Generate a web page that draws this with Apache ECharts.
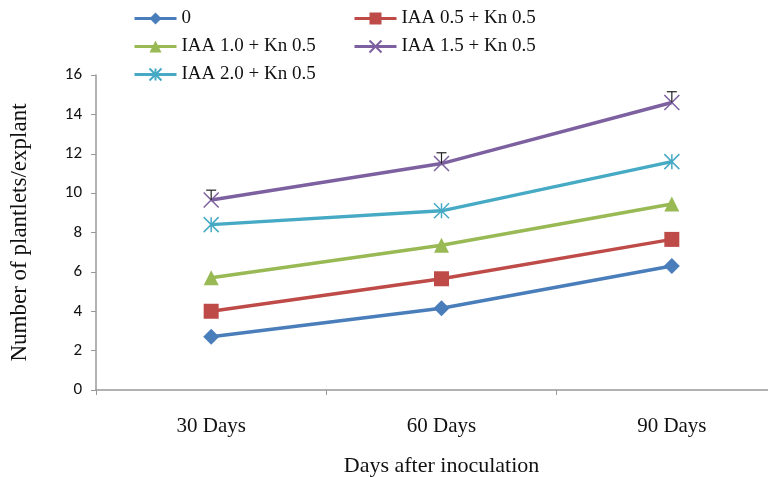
<!DOCTYPE html>
<html><head><meta charset="utf-8">
<script src="https://cdn.jsdelivr.net/npm/echarts@6/dist/echarts.min.js"></script>
<style>html,body{margin:0;padding:0;background:#fff}#c{width:768px;height:477px}</style>
</head><body><div id="c"></div>
<script>
const categories = ['30 Days', '60 Days', '90 Days'];
const seriesNames = ['0', 'IAA 0.5 + Kn 0.5', 'IAA 1.0 + Kn 0.5', 'IAA 1.5 + Kn 0.5', 'IAA 2.0 + Kn 0.5'];
const s0 = [2.7, 4.15, 6.3];
const s05 = [4.0, 5.65, 7.65];
const s10 = [5.7, 7.35, 9.45];
const s15 = [9.65, 11.5, 14.6];
const s20 = [8.4, 9.1, 11.6];
const err15 = [0.5, 0.55, 0.55];
const yTicks = { min: 0, max: 16, interval: 2 };

const colors = ['#4a7ebb', '#be4b48', '#98b954', '#7d60a0', '#46aac5'];
const X = 'path://M0,0L10,10M10,0L0,10';
const STAR = 'path://M0,0L10,10M10,0L0,10M5,0L5,10';

function lineSeries(name, data, color, symbol, size, stroke) {
  return {
    name, type: 'line', data, symbol, symbolSize: size,
    lineStyle: { color, width: 3.5 },
    itemStyle: stroke ? { color: 'rgba(0,0,0,0)', borderColor: color, borderWidth: 1.5 } : { color, borderWidth: 0 },
    emphasis: { disabled: true }, animation: false, z: 3
  };
}

const chart = echarts.init(document.getElementById('c'), null, { renderer: 'canvas' });
const serif = '"Liberation Serif", "Times New Roman", serif';
const legendText = { fontFamily: serif, fontSize: 19, color: '#111', lineHeight: 19 };
const legendCommon = { orient: 'vertical', top: 4, itemWidth: 42, itemHeight: 15, itemGap: 9,
  textStyle: legendText, lineStyle: { width: 3 } };
chart.setOption({
  animation: false,
  backgroundColor: '#fff',
  grid: { left: 96, right: -19, top: 75, bottom: 87, outerBoundsMode: 'none', containLabel: false },
  legend: [
    Object.assign({ data: [seriesNames[0], seriesNames[2], seriesNames[4]], left: 128 }, legendCommon),
    Object.assign({ data: [seriesNames[1], seriesNames[3]], left: 348 }, legendCommon)
  ],
  xAxis: {
    type: 'category', data: categories, boundaryGap: true,
    axisLine: { lineStyle: { color: '#999', width: 1.5 } },
    axisTick: { show: true, length: 5, lineStyle: { color: '#999' } },
    axisLabel: { fontFamily: serif, fontSize: 21, color: '#111', margin: 26 },
    name: 'Days after inoculation', nameLocation: 'middle', nameGap: 65,
    nameTextStyle: { fontFamily: serif, fontSize: 22, color: '#111' }
  },
  yAxis: {
    type: 'value', min: yTicks.min, max: yTicks.max, interval: yTicks.interval,
    splitLine: { show: false },
    axisLine: { show: true, lineStyle: { color: '#999', width: 1.5 } },
    axisTick: { show: true, length: 5, lineStyle: { color: '#999' } },
    axisLabel: { fontFamily: '"Carlito", "Liberation Sans", sans-serif', fontSize: 17, color: '#111', margin: 14 },
    name: 'Number of plantlets/explant', nameLocation: 'middle', nameGap: 65,
    nameTextStyle: { fontFamily: serif, fontSize: 23, color: '#111' }
  },
  series: [
    lineSeries(seriesNames[0], s0, colors[0], 'diamond', 16, false),
    lineSeries(seriesNames[1], s05, colors[1], 'rect', 15, false),
    lineSeries(seriesNames[2], s10, colors[2], 'triangle', 15, false),
    lineSeries(seriesNames[3], s15, colors[3], X, 15, true),
    lineSeries(seriesNames[4], s20, colors[4], STAR, 15, true),
    {
      type: 'custom', name: 'err', silent: true, z: 5,
      data: s15.map((v, i) => [i, v, v + err15[i]]),
      renderItem: function (params, api) {
        const p0 = api.coord([api.value(0), api.value(1)]);
        const p1 = api.coord([api.value(0), api.value(2)]);
        const st = { stroke: '#222', lineWidth: 1.2 };
        return { type: 'group', children: [
          { type: 'line', shape: { x1: p0[0], y1: p0[1], x2: p1[0], y2: p1[1] }, style: st },
          { type: 'line', shape: { x1: p1[0] - 5, y1: p1[1], x2: p1[0] + 5, y2: p1[1] }, style: st }
        ] };
      }
    }
  ]
});
</script></body></html>
